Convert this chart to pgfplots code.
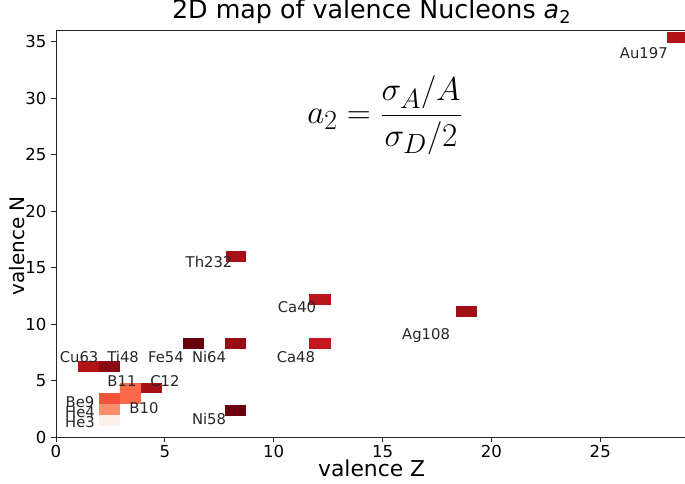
\documentclass[border=0pt]{standalone}
\usepackage{pgfplots}
\pgfplotsset{compat=1.18}
\usepackage{fontspec}
\setmainfont{DejaVu Sans}

\definecolor{cAu}{HTML}{B31218}
\definecolor{cTh}{HTML}{A50F15}
\definecolor{cCaA}{HTML}{B81419}
\definecolor{cCaB}{HTML}{C4161C}
\definecolor{cAg}{HTML}{A10E15}
\definecolor{cNiA}{HTML}{980C13}
\definecolor{cFe}{HTML}{67000D}
\definecolor{cNiB}{HTML}{6B010E}
\definecolor{cCu}{HTML}{B11218}
\definecolor{cTi}{HTML}{8A0812}
\definecolor{cC}{HTML}{A90F16}
\definecolor{cB}{HTML}{FB6B4B}
\definecolor{cBe}{HTML}{F3533B}
\definecolor{cHeA}{HTML}{FC8D6D}
\definecolor{cHeB}{HTML}{FDF0EA}

\newcommand{\cell}[5]{\addplot[draw=none, fill=#5, mark=none, forget plot] coordinates {(#1,#3) (#2,#3) (#2,#4) (#1,#4)} -- cycle;}

\begin{document}
\begin{tikzpicture}
\begin{axis}[
  scale only axis, width=473.5pt, height=304.8pt,
  xmin=0, xmax=29, ymin=0, ymax=36,
  xtick={0,5,10,15,20,25}, ytick={0,5,10,15,20,25,30,35},
  tick align=outside, tick pos=left,
  major tick length=3.75pt,
  tick style={black!85, line width=0.6pt},
  axis line style={black!85, line width=0.6pt},
  ticklabel style={font=\fontsize{12.4}{14}\selectfont},
  xticklabel style={inner sep=1.5pt, yshift=-1pt},
  /pgf/number format/assume math mode=true,
  xlabel={valence Z}, ylabel={valence N},
  label style={font=\fontsize{16.4}{19}\selectfont, inner sep=0pt},
  xlabel style={at={(axis description cs:0.5,-0.0775)}, anchor=center},
  ylabel style={at={(axis description cs:-0.0615,0.47)}, anchor=center, font=\fontsize{15}{18}\selectfont},
  title={2D map of valence Nucleons \textit{a}\textsubscript{2}},
  title style={font=\fontsize{19}{22}\selectfont, at={(axis description cs:0.5,1)}, anchor=base, yshift=3pt},
]
\coordinate (sw) at (rel axis cs:0,0);
% cells: x0 x1 y0 y1 colour
\cell{28.08}{29.10}{34.92}{35.90}{cAu}
\cell{7.80}{8.75}{15.53}{16.47}{cTh}
\cell{11.64}{12.62}{11.67}{12.64}{cCaA}
\cell{11.64}{12.62}{7.77}{8.74}{cCaB}
\cell{18.37}{19.35}{10.65}{11.62}{cAg}
\cell{7.77}{8.73}{7.77}{8.74}{cNiA}
\cell{5.82}{6.81}{7.77}{8.74}{cFe}
\cell{7.77}{8.73}{1.90}{2.87}{cNiB}
\cell{1.00}{1.97}{5.80}{6.76}{cCu}
\cell{1.97}{2.94}{5.80}{6.76}{cTi}
\cell{3.90}{4.87}{3.87}{4.81}{cC}
\cell{2.94}{3.90}{3.87}{4.81}{cB}
\cell{2.94}{3.90}{2.90}{3.87}{cB}
\cell{1.97}{2.94}{2.90}{3.87}{cBe}
\cell{1.97}{2.94}{1.95}{2.90}{cHeA}
\cell{1.97}{2.94}{0.97}{1.95}{cHeB}

\begin{scope}[every node/.style={font=\fontsize{11.1}{13}\selectfont, text=black!85, inner sep=0pt}]
\node at (axis cs:27.0,34.0) {Au197};
\node at (axis cs:7.03,15.5) {Th232};
\node at (axis cs:11.07,11.51) {Ca40};
\node at (axis cs:17.0,9.03) {Ag108};
\node at (axis cs:1.06,7.09) {Cu63};
\node at (axis cs:3.08,7.09) {Ti48};
\node at (axis cs:5.05,7.09) {Fe54};
\node at (axis cs:7.03,7.09) {Ni64};
\node at (axis cs:11.02,7.09) {Ca48};
\node at (axis cs:3.03,4.96) {B11};
\node at (axis cs:5.0,4.96) {C12};
\node at (axis cs:1.1,3.12) {Be9};
\node at (axis cs:4.04,2.52) {B10};
\node at (axis cs:1.1,2.21) {He4};
\node at (axis cs:1.1,1.3) {He3};
\node at (axis cs:7.03,1.59) {Ni58};
\end{scope}
\node[font=\fontsize{28}{32}\selectfont] at (axis cs:15.1,28.5) {$\displaystyle a_2 = \frac{\sigma_A/A}{\sigma_D/2}$};
\end{axis}
\pgfresetboundingbox
\path (sw) ++(-42pt,-34.5pt) rectangle ++(513.75pt,362.25pt);
\end{tikzpicture}
\end{document}
